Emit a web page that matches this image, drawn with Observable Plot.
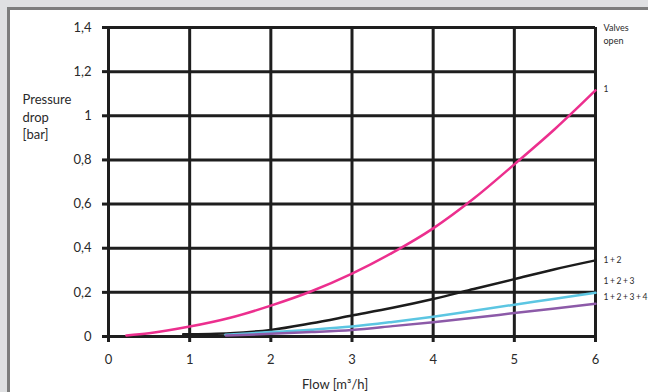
<!DOCTYPE html>
<html>
<head>
<meta charset="utf-8">
<script src="https://cdn.jsdelivr.net/npm/d3@7"></script>
<script src="https://cdn.jsdelivr.net/npm/@observablehq/plot@0.6"></script>
<style>
  html, body { margin: 0; padding: 0; }
  body { width: 648px; height: 392px; background: #dfe0e2; position: relative; overflow: hidden; font-family: Lato, "Open Sans", sans-serif; }
  #frame { position: absolute; left: 7px; top: 7px; width: 660px; height: 400px; background: #ffffff; border-left: 3px solid #7d7d7d; border-top: 3px solid #7d7d7d; }
  #chart { position: absolute; left: 0; top: 0; }
</style>
</head>
<body>
<div id="frame"></div>
<div id="chart"></div>
<script>
// Tick values and labels
const xTicks = [0, 1, 2, 3, 4, 5, 6];
const xTickLabels = ["0", "1", "2", "3", "4", "5", "6"];
const yTicks = [0, 0.2, 0.4, 0.6, 0.8, 1, 1.2, 1.4];
const yTickLabels = ["0", "0,2", "0,4", "0,6", "0,8", "1", "1,2", "1,4"];

// Series: valves open
const seriesNames = ["1", "1 + 2", "1 + 2 + 3", "1 + 2 + 3 + 4"];
const seriesColors = ["#ec2f8e", "#1c1c1c", "#5cc6e2", "#8c5aa8"];
// end-label positions (bar)
const seriesLabelAt = [1.12, 0.345, 0.25, 0.178];

const flow1 = [0.22, 0.5, 1, 1.5, 2, 2.5, 3, 3.5, 4, 4.5, 5, 5.5, 6];
const drop1 = [0.005, 0.015, 0.045, 0.085, 0.14, 0.205, 0.285, 0.38, 0.49, 0.625, 0.78, 0.94, 1.115];

const flow12 = [0.92, 1.5, 2, 2.5, 3, 3.5, 4, 4.5, 5, 5.5, 6];
const drop12 = [0.01, 0.015, 0.03, 0.06, 0.095, 0.13, 0.17, 0.215, 0.26, 0.305, 0.345];

const flow123 = [1.44, 2, 2.5, 3, 3.5, 4, 4.5, 5, 5.5, 6];
const drop123 = [0.008, 0.02, 0.031, 0.045, 0.066, 0.09, 0.117, 0.144, 0.171, 0.198];

const flow1234 = [1.45, 2, 2.5, 3, 3.5, 4, 4.5, 5, 5.5, 6];
const drop1234 = [0.004, 0.012, 0.02, 0.03, 0.047, 0.065, 0.085, 0.106, 0.127, 0.148];

const flows = [flow1, flow12, flow123, flow1234];
const drops = [drop1, drop12, drop123, drop1234];

const lineData = seriesNames.flatMap((name, i) =>
  flows[i].map((f, j) => ({series: name, flow: f, drop: drops[i][j]}))
);
const labelData = seriesNames.map((name, i) => ({series: name, flow: 6, drop: seriesLabelAt[i]}));

const fmtY = d => yTickLabels[yTicks.findIndex(t => Math.abs(t - d) < 1e-9)];
const fmtX = d => xTickLabels[xTicks.indexOf(d)];

const gridColor = "#1e1e1e";
const textColor = "#2a2a2a";
const font = "Lato, 'Open Sans', sans-serif";

const chart = Plot.plot({
  width: 648,
  height: 392,
  marginLeft: 108,
  marginRight: 53,
  marginTop: 27,
  marginBottom: 56,
  style: {background: "transparent", fontFamily: font, fontSize: "13px", color: textColor, overflow: "visible"},
  x: {domain: [0, 6]},
  y: {domain: [0, 1.4]},
  color: {domain: seriesNames, range: seriesColors},
  marks: [
    Plot.ruleY(yTicks, {stroke: gridColor, strokeWidth: 3}),
    Plot.ruleX(xTicks, {stroke: gridColor, strokeWidth: 3}),
    Plot.axisY({ticks: yTicks, tickFormat: fmtY, tickSize: 6, tickPadding: 11, stroke: gridColor, strokeWidth: 3, fill: textColor, fontSize: 13, label: null}),
    Plot.axisX({ticks: xTicks, tickFormat: fmtX, tickSize: 6, tickPadding: 12, stroke: gridColor, strokeWidth: 3, fill: textColor, fontSize: 13, label: null}),
    Plot.line(lineData, {x: "flow", y: "drop", z: "series", stroke: "series", strokeWidth: 2.5, curve: "monotone-x"}),
    Plot.text(labelData, {x: "flow", y: "drop", text: "series", textAnchor: "start", dx: 8, fontSize: 8.5, fill: textColor, className: "series-label"}),
    Plot.text(["Valves\nopen"], {frameAnchor: "top-right", textAnchor: "start", lineAnchor: "top", dx: 8, dy: -6, fontSize: 9, lineHeight: 1.45, fill: textColor}),
    Plot.text(["Pressure\ndrop\n[bar]"], {frameAnchor: "top-left", textAnchor: "start", lineAnchor: "top", dx: -86, dy: 64, fontSize: 13, lineHeight: 1.35, fill: textColor}),
    Plot.text(["Flow [m³/h]"], {frameAnchor: "bottom", textAnchor: "middle", lineAnchor: "middle", dx: -17, dy: 48, fontSize: 13, fill: textColor})
  ]
});
// tighten the end labels slightly so the longest fits in the frame
d3.select(chart).selectAll("text").filter(function() { return seriesNames.includes(this.textContent); })
  .style("letter-spacing", "-0.3px");
document.getElementById("chart").appendChild(chart);
</script>
</body>
</html>
